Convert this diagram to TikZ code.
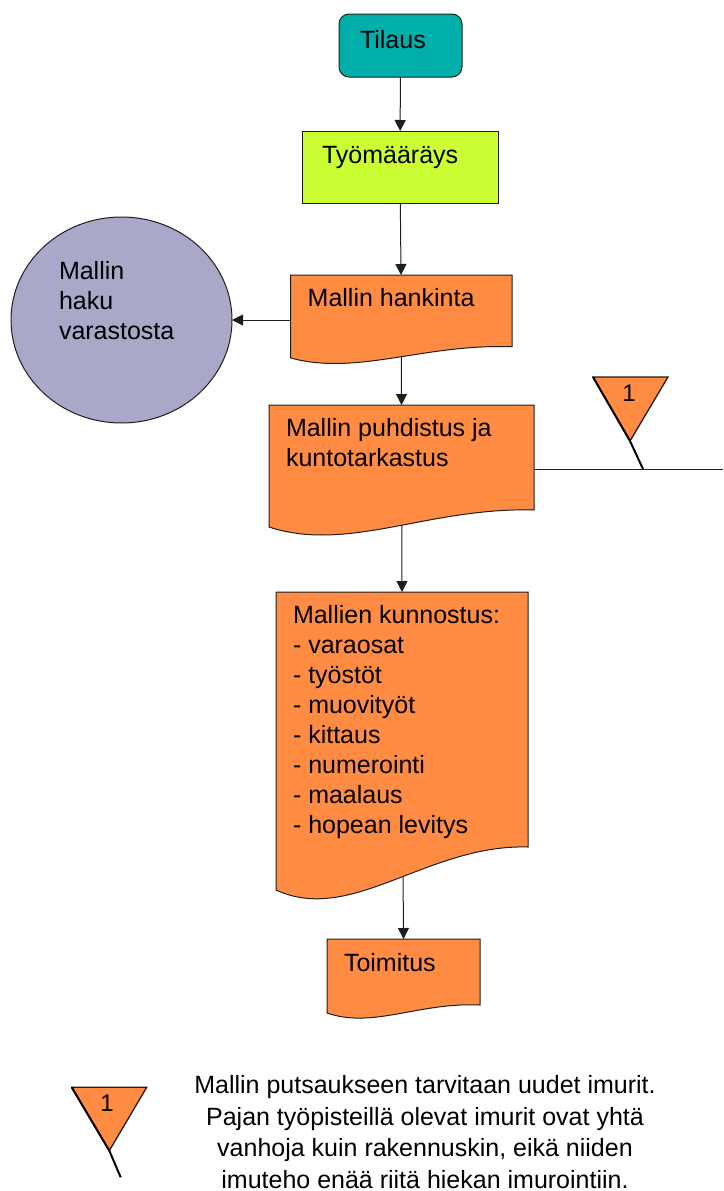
\documentclass[tikz,border=0pt]{standalone}
\usepackage{fontspec}
\setmainfont{Liberation Sans}
\usetikzlibrary{shapes.geometric,arrows.meta,calc,backgrounds}

\definecolor{tealbox}{HTML}{00AEAA}
\definecolor{limebox}{HTML}{CCFF33}
\definecolor{orangebox}{HTML}{FF8C42}
\definecolor{lavender}{HTML}{AAA8C8}
\definecolor{edge}{HTML}{1E1E1E}

% text block of fixed height: #1 height, #2 width, #3 first baseline offset, #4 text
\newcommand\boxtext[4]{\parbox[t][#1pt][t]{#2pt}{\raggedright\rule{0pt}{#3pt}#4}}

% wavy "document" outline below a node: #1 node, #2 drop of left corner, #3 depth of the wave
\newcommand\docoutline[3]{%
  \path[docfill] (#1.north west) -- (#1.north east) -- (#1.south east)
    .. controls ($(#1.south west)!0.6!(#1.south east)+(0,-3)$)
       and ($(#1.south west)!0.3!(#1.south east)+(0,#2+#3)$)
    .. ($(#1.south west)+(0,#2)$) -- cycle;}

\tikzset{
  txt/.style={font=\fontsize{25}{30}\selectfont, text=black},
  notetxt/.style={font=\fontsize{25}{31.5}\selectfont, text=black},
  boxbase/.style={txt, inner ysep=0pt, outer sep=0pt, anchor=center},
  startbox/.style={boxbase, inner xsep=21pt, draw=edge, line width=1pt, fill=tealbox, rounded corners=10pt},
  orderbox/.style={boxbase, inner xsep=20pt, draw=edge, line width=1pt, fill=limebox},
  docbox/.style={boxbase, inner xsep=17pt, draw=none},
  docfill/.style={fill=orangebox, draw=edge, line width=1pt},
  storebox/.style={txt, ellipse, draw=edge, line width=1pt, fill=lavender, inner sep=0pt, outer sep=0pt},
  conn/.style={draw=edge, line width=1pt},
  arr/.style={conn, -{Triangle[length=11pt,width=11pt]}},
  flag/.style={fill=orangebox, draw=edge, line width=1.3pt},
  flagline/.style={draw=black, line width=2pt},
  flagnum/.style={font=\fontsize{24}{28}\selectfont, anchor=base, inner sep=0pt}
}

\begin{document}
\begin{tikzpicture}[x=1pt,y=-1pt]
\useasboundingbox (0,0) rectangle (723,1191);

% process steps
\node[startbox, minimum width=123pt, minimum height=63pt] (tilaus) at (400.5,45.5)
  {\boxtext{63}{81}{34}{Tilaus}};
\node[orderbox, minimum width=196pt, minimum height=72pt] (tyo) at (400,167)
  {\boxtext{72}{156}{32.3}{Työmääräys}};
\node[docbox, minimum width=221.3pt, minimum height=71.7pt] (hank) at (401.35,310.85)
  {\boxtext{71.7}{187.3}{31.7}{Mallin hankinta}};
\node[docbox, minimum width=265pt, minimum height=105pt] (puhd) at (401.5,457.5)
  {\boxtext{105}{231}{31.7}{Mallin puhdistus ja\\kuntotarkastus}};
\node[docbox, minimum width=252pt, minimum height=255pt] (kunn) at (402,719.5)
  {\boxtext{255}{218}{31}{Mallien kunnostus:\\- varaosat\\- työstöt\\- muovityöt\\- kittaus\\- numerointi\\- maalaus\\- hopean levitys}};
\node[docbox, minimum width=153pt, minimum height=66pt] (toim) at (403.5,972)
  {\boxtext{66}{119}{32}{Toimitus}};

% storage
\node[storebox, minimum width=221pt, minimum height=206pt] (circ) at (121.5,320)
  {\boxtext{120}{125}{19}{Mallin\\haku\\varastosta}};

% connectors
\draw[arr] (tilaus) -- (tyo);
\draw[arr] (tyo) -- (hank);
\draw[arr] (hank.west |- circ.center) -- (circ.east);

\coordinate (lineend) at (723,469);
\draw[conn] (puhd.east |- lineend) -- (lineend);

\begin{scope}[on background layer]
  \draw[arr] (hank) -- (puhd.north);
  \draw[arr] (puhd) -- (kunn.north);
  \draw[arr] (kunn) -- (toim.north);
  \docoutline{hank}{11.3}{18}
  \docoutline{puhd}{17}{26}
  \docoutline{kunn}{43}{35}
  \docoutline{toim}{8}{16}
\end{scope}

% improvement flag on the cleaning step
\path[flag] (593,377) -- (668,377) -- (630,441) -- cycle;
\draw[flagline] (593,377) -- (630,441) -- (643,469);
\node[flagnum] (flagnum) at (629,401.7) {1};

% note
\path[flag] (71.7,1087.3) -- (146.7,1087.3) -- (109.3,1150.7) -- cycle;
\draw[flagline] (71.7,1087.3) -- (109.3,1150.7) -- (120.7,1177.3);
\node[flagnum] (notenum) at (107,1111.7) {1};
\node[notetxt, anchor=base, inner sep=0pt] (note) at (425,1093.5)
  {\parbox[t]{480pt}{\centering Mallin putsaukseen tarvitaan uudet imurit.\\Pajan työpisteillä olevat imurit ovat yhtä\\vanhoja kuin rakennuskin, eikä niiden\\imuteho enää riitä hiekan imurointiin.}};
\end{tikzpicture}
\end{document}
